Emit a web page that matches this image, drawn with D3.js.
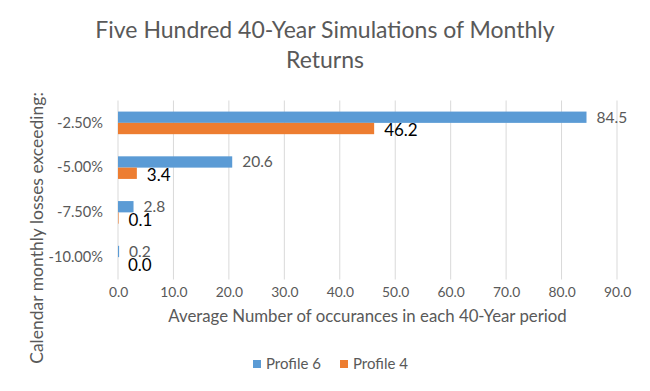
<!DOCTYPE html>
<html><head><meta charset="utf-8">
<script src="https://cdn.jsdelivr.net/npm/d3@7"></script>
<style>
body{margin:0;background:#fff;}
text{font-family:Lato,"Open Sans",sans-serif;}
</style></head>
<body><svg id="c" width="650" height="391"></svg>
<script>
const categories = ["-2.50%", "-5.00%", "-7.50%", "-10.00%"];
const seriesNames = ["Profile 6", "Profile 4"];
const profile6 = [84.5, 20.6, 2.8, 0.2];
const profile4 = [46.2, 3.4, 0.1, 0.0];
const xTicks = [0, 10, 20, 30, 40, 50, 60, 70, 80, 90];
const colors = ["#5B9BD5", "#ED7D31"];
const titleLines = ["Five Hundred 40-Year Simulations of Monthly", "Returns"];
const xTitle = "Average Number of occurances in each 40-Year period";
const yTitle = "Calendar monthly losses exceeding:";

const svg = d3.select("#c");
const pLeft = 118, pRight = 617, pTop = 100.5, pBottom = 279.5;
const x = d3.scaleLinear().domain([0, 90]).range([pLeft, pRight]);
const y = d3.scaleBand().domain(categories).range([pTop, pBottom]).paddingInner(0.495).paddingOuter(0.2475);
const sub = d3.scaleBand().domain(seriesNames).range([0, y.bandwidth()]);

// gridlines
svg.append("g").selectAll("line").data(xTicks).join("line")
  .attr("x1", d => x(d)).attr("x2", d => x(d))
  .attr("y1", pTop).attr("y2", pBottom)
  .attr("stroke", "#d9d9d9").attr("stroke-width", 1);

// x axis labels
const xAxis = d3.axisBottom(x).tickValues(xTicks).tickFormat(d3.format(".1f")).tickSize(0).tickPadding(0);
const gx = svg.append("g").attr("transform", `translate(0,${pBottom + 8})`).call(xAxis);
gx.select(".domain").remove();
gx.selectAll("text").attr("font-size", 13.8).attr("fill", "#595959").attr("dy", "0.71em")
  .style("font-family", "Lato, sans-serif");

// y axis labels
const yAxis = d3.axisLeft(y).tickSize(0).tickPadding(0);
const gy = svg.append("g").attr("transform", `translate(${pLeft - 15},0)`).call(yAxis);
gy.select(".domain").remove();
gy.selectAll("text").attr("font-size", 14.6).attr("fill", "#595959")
  .style("font-family", "Lato, sans-serif");

const series = [profile6, profile4];
series.forEach((vals, si) => {
  const g = svg.append("g");
  g.selectAll("rect").data(vals).join("rect")
    .attr("x", x(0))
    .attr("y", (d, i) => y(categories[i]) + sub(seriesNames[si]))
    .attr("width", d => Math.max(0, x(d) - x(0)))
    .attr("height", sub.bandwidth())
    .attr("fill", colors[si]);
  g.selectAll("text").data(vals).join("text")
    .attr("x", d => x(d) + 10)
    .attr("y", (d, i) => y(categories[i]) + sub(seriesNames[si]) + sub.bandwidth() / 2 + (si === 0 ? 0 : 2))
    .attr("dy", "0.35em")
    .attr("font-size", si === 0 ? 15.5 : 17)
    .attr("fill", si === 0 ? "#595959" : "#000")
    .text(d => d3.format(".1f")(d));
});

// title
svg.append("g").selectAll("text").data(titleLines).join("text")
  .attr("x", 325).attr("y", (d, i) => 38 + i * 30)
  .attr("text-anchor", "middle").attr("font-size", 23).attr("fill", "#595959")
  .text(d => d);

// x title
svg.append("text").attr("x", x(45)).attr("y", 322).attr("text-anchor", "middle")
  .attr("font-size", 16.8).attr("fill", "#595959").text(xTitle);

// y title
svg.append("text").attr("transform", "translate(43,228) rotate(-90)")
  .attr("text-anchor", "middle").attr("font-size", 17.5).attr("fill", "#595959").text(yTitle);

// legend
const legX = [253, 340];
const lg = svg.append("g").selectAll("g").data(seriesNames).join("g")
  .attr("transform", (d, i) => `translate(${legX[i]},364)`);
lg.append("rect").attr("x", 0).attr("y", -4).attr("width", 8).attr("height", 8).attr("fill", (d, i) => colors[i]);
lg.append("text").attr("x", 13).attr("y", 0).attr("dy", "0.35em").attr("font-size", 15)
  .attr("fill", "#595959").text(d => d);
</script></body></html>
